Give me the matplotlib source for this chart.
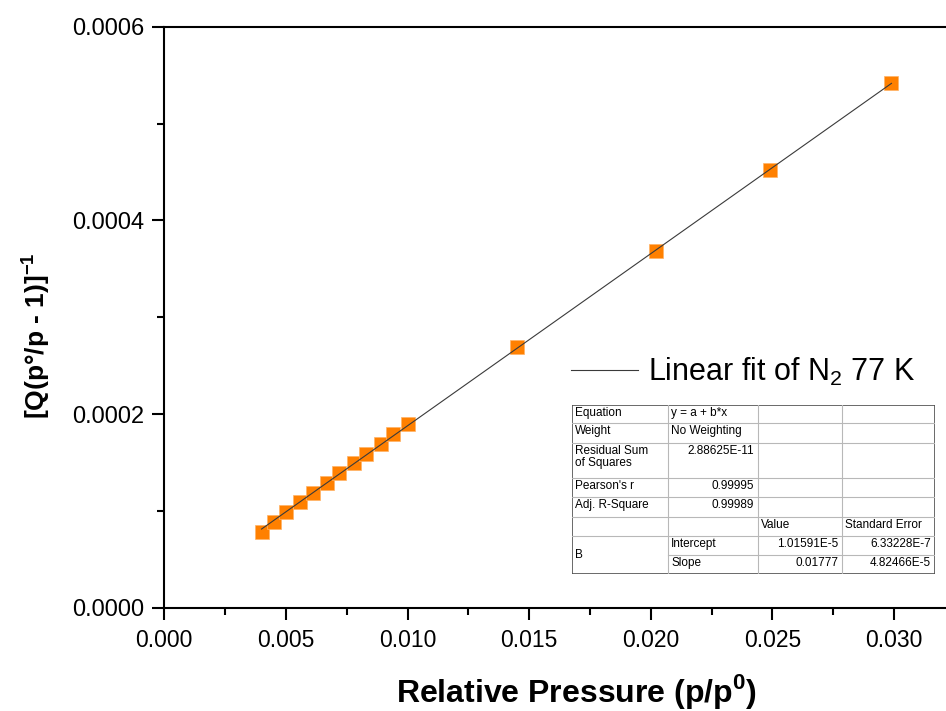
import matplotlib
matplotlib.use("Agg")
import matplotlib.pyplot as plt
from matplotlib.ticker import MultipleLocator, FormatStrFormatter
import numpy as np

# BET plot points, nitrogen at 77 K
rel_pressure = [0.0040, 0.0045, 0.0050, 0.0056, 0.0061, 0.0067, 0.0072, 0.0078,
                0.0083, 0.0089, 0.0094, 0.0100, 0.0145, 0.0202, 0.0249, 0.0299]
bet_value = [7.79e-5, 8.82e-5, 9.85e-5, 1.089e-4, 1.185e-4, 1.291e-4, 1.388e-4, 1.491e-4,
             1.590e-4, 1.690e-4, 1.797e-4, 1.897e-4, 2.693e-4, 3.684e-4, 4.519e-4, 5.416e-4]

# linear fit results
fit_intercept = 1.01591e-5
fit_slope = 0.01777

table_rows = [
    ["Equation", "y = a + b*x", "", ""],
    ["Weight", "No Weighting", "", ""],
    ["Residual Sum\nof Squares", "2.88625E-11", "", ""],
    ["Pearson's r", "0.99995", "", ""],
    ["Adj. R-Square", "0.99989", "", ""],
    ["", "", "Value", "Standard Error"],
    ["B", "Intercept", "1.01591E-5", "6.33228E-7"],
    ["", "Slope", "0.01777", "4.82466E-5"],
]

plt.rcParams["font.family"] = ["Liberation Sans", "DejaVu Sans"]
plt.rcParams["mathtext.fontset"] = "custom"
plt.rcParams["mathtext.rm"] = "Liberation Sans"
plt.rcParams["mathtext.bf"] = "Liberation Sans:bold"

W, H = 946, 711
fig = plt.figure(figsize=(W / 100, H / 100), dpi=100)
x0, y0, yt = 164.3, 607.7, 26.7
px_per_x = 24320.0
xmax = 0.033
ax_w = xmax * px_per_x
ax = fig.add_axes([x0 / W, (H - y0) / H, ax_w / W, (y0 - yt) / H])

xs = np.array([rel_pressure[0], rel_pressure[-1]])
ax.plot(xs, fit_intercept + fit_slope * xs, color="#3a3a3a", lw=0.8, zorder=4,
        label="Linear fit of N$_2$ 77 K")
ax.plot(rel_pressure, bet_value, ls="none", marker="s", ms=9.4,
        mfc="#FF8000", mec="#FFB366", mew=0.5, zorder=3)

ax.set_xlim(0, xmax)
ax.set_ylim(0, 0.0006)
ax.xaxis.set_major_locator(MultipleLocator(0.005))
ax.xaxis.set_minor_locator(MultipleLocator(0.0025))
ax.yaxis.set_major_locator(MultipleLocator(0.0002))
ax.yaxis.set_minor_locator(MultipleLocator(0.0001))
ax.xaxis.set_major_formatter(FormatStrFormatter("%.3f"))
ax.yaxis.set_major_formatter(FormatStrFormatter("%.4f"))

for side in ["left", "bottom", "top", "right"]:
    ax.spines[side].set_linewidth(1.5)
ax.tick_params(which="major", direction="out", length=8.6, width=1.5, labelsize=16.5)
ax.tick_params(axis="y", which="major", labelsize=17)
ax.tick_params(which="minor", direction="out", length=5, width=1.5)
ax.tick_params(axis="x", pad=7)
ax.tick_params(axis="y", pad=5.5)

ax.set_xlabel("Relative Pressure (p/p$^{\\mathbf{0}}$)", fontsize=23, fontweight="bold")
ax.xaxis.set_label_coords((576 - x0) / ax_w, -(672 - y0) / (y0 - yt))
ax.set_ylabel("[Q(p°/p - 1)]$^{\\mathbf{-1}}$", fontsize=19, fontweight="bold")
ax.yaxis.set_label_coords(-(x0 - 52) / ax_w, (y0 - 336) / (y0 - yt))

ax.legend(loc="center left", bbox_to_anchor=((559 - x0) / ax_w, (y0 - 372) / (y0 - yt)),
          frameon=False, fontsize=22, handlelength=2.2, handletextpad=0.3, borderaxespad=0)

# fit parameter table, laid out in pixel units
col_edges = [571.7, 668, 758, 842, 935]
row_edges = [405, 423, 443, 478, 497, 517, 536, 555, 574]
tab = fig.add_axes([col_edges[0] / W, (H - row_edges[-1]) / H,
                    (col_edges[-1] - col_edges[0]) / W, (row_edges[-1] - row_edges[0]) / H])
tab.set_xlim(col_edges[0], col_edges[-1])
tab.set_ylim(row_edges[-1], row_edges[0])
tab.axis("off")
tab.add_patch(plt.Rectangle((col_edges[0], row_edges[0]), col_edges[-1] - col_edges[0],
                            row_edges[-1] - row_edges[0], fc="white", ec="none"))
inner = "#b8b8b8"
for c in col_edges[1:-1]:
    tab.plot([c, c], [row_edges[0], row_edges[-1]], color=inner, lw=0.8)
for i, r in enumerate(row_edges[1:-1], start=1):
    # the merged "B" cell has no line between its two rows
    x_start = col_edges[1] if i == 7 else col_edges[0]
    tab.plot([x_start, col_edges[-1]], [r, r], color=inner, lw=0.8)
tab.add_patch(plt.Rectangle((col_edges[0], row_edges[0]), col_edges[-1] - col_edges[0],
                            row_edges[-1] - row_edges[0], fc="none", ec="#505050", lw=1.2))

right_aligned = {(2, 1), (3, 1), (4, 1), (6, 2), (6, 3), (7, 2), (7, 3)}
for i, row in enumerate(table_rows):
    for j, txt in enumerate(row):
        if not txt:
            continue
        top = row_edges[i] + 2
        if (i, j) in right_aligned:
            tab.text(col_edges[j + 1] - 4, top, txt, ha="right", va="top", fontsize=8.5)
        elif i == 6 and j == 0:
            tab.text(col_edges[0] + 3, (row_edges[6] + row_edges[8]) / 2, txt,
                     ha="left", va="center", fontsize=8.5)
        else:
            tab.text(col_edges[j] + 3, top, txt, ha="left", va="top", fontsize=8.5,
                     linespacing=1.05)

fig.savefig("out.png", dpi=100)
